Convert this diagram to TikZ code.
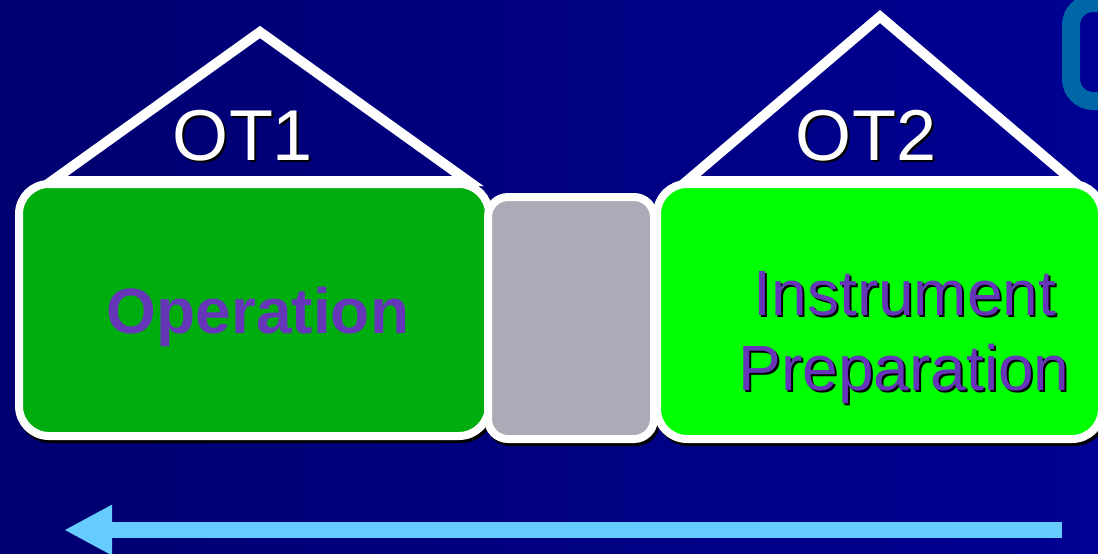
\documentclass[tikz,border=0pt]{standalone}
\usepackage{fontspec}
\setmainfont{Liberation Sans}
\usetikzlibrary{arrows.meta}
\definecolor{bgL}{HTML}{000070}
\definecolor{bgR}{HTML}{000092}
\definecolor{darkgreen}{HTML}{00AD0E}
\definecolor{brightgreen}{HTML}{00FF00}
\definecolor{boxgray}{HTML}{ABABB8}
\definecolor{txtpurple}{HTML}{6636B8}
\definecolor{arrowblue}{HTML}{66CCFF}
\definecolor{letterblue}{HTML}{0066A8}
\tikzset{
  boxbase/.style={rectangle, inner sep=0pt, outer sep=0pt, line width=8pt},
  boxshadow/.style={boxbase, draw=black, fill=black},
  greenbox/.style={boxbase, draw=white, fill=darkgreen, rounded corners=30pt},
  limebox/.style={boxbase, draw=white, fill=brightgreen, rounded corners=30pt},
  graybox/.style={boxbase, draw=white, fill=boxgray, rounded corners=20pt},
  roof/.style={draw=white, line width=10pt, line join=miter},
  otlabel/.style={text=white, font=\fontsize{72}{80}\selectfont, anchor=base, inner sep=0pt},
  otshadow/.style={otlabel, text=black},
  oplabel/.style={text=txtpurple, font=\bfseries\fontsize{64}{72}\selectfont, anchor=base, inner sep=0pt},
  iplabel/.style={text=txtpurple, font=\fontsize{64}{72}\selectfont, anchor=base, inner sep=0pt},
  ipshadow/.style={iplabel, text=black},
  timearrow/.style={draw=arrowblue, line width=16pt, -{Triangle[length=48pt,width=47pt]}},
}
\begin{document}
\begin{tikzpicture}[x=1pt,y=-1pt]
\useasboundingbox (0,0) rectangle (1098,554);
\begin{scope}
\clip (0,0) rectangle (1098,554);
\shade[left color=bgL, right color=bgR] (0,0) rectangle (1098,554);
% partial blue letter at top right
\draw[letterblue, line width=18pt, rounded corners=22pt] (1200,3) -- (1071,3) -- (1071,101) -- (1200,101);
% box shadows
\node[boxshadow, rounded corners=30pt, minimum width=470pt, minimum height=252pt] (opsh) at (256,313) {};
\node[boxshadow, rounded corners=30pt, minimum width=445pt, minimum height=255pt] (ipsh) at (881.5,314.5) {};
\node[boxshadow, rounded corners=20pt, minimum width=166pt, minimum height=242pt] (gapsh) at (573,321) {};
% boxes
\node[greenbox, minimum width=470pt, minimum height=252pt] (op) at (254,310) {};
\node[limebox, minimum width=445pt, minimum height=255pt] (ip) at (879.5,311.5) {};
\node[graybox, minimum width=166pt, minimum height=242pt] (gap) at (571,318) {};
% roofs
\draw[roof] (52,181) -- (260,32) -- (468,181) -- cycle;
\draw[roof] (687,181) -- (880,16.5) -- (1073,181) -- cycle;
% labels
\node[otshadow] (ot1s) at (245,162) {OT1};
\node[otlabel] (ot1) at (243,160) {OT1};
\node[otshadow] (ot2s) at (868,162) {OT2};
\node[otlabel] (ot2) at (866,160) {OT2};
\node[oplabel] (optext) at (258,333) {Operation};
\node[ipshadow] (ip1s) at (907,317) {Instrument};
\node[iplabel] (ip1) at (905,315) {Instrument};
\node[ipshadow] (ip2s) at (906,392) {Preparation};
\node[iplabel] (ip2) at (904,390) {Preparation};
% arrow
\coordinate (arrS) at (1062,530);
\coordinate (arrE) at (64,530);
\draw[timearrow] (arrS) -- (arrE);
\end{scope}
\end{tikzpicture}
\end{document}
